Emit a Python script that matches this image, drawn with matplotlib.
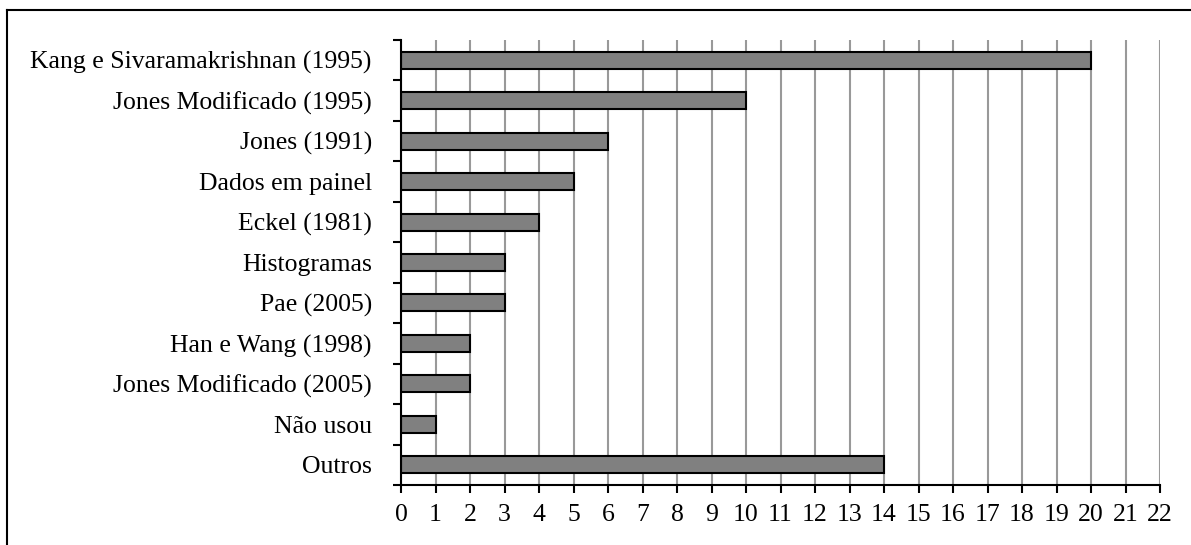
import matplotlib
matplotlib.use("Agg")
import matplotlib.pyplot as plt
from matplotlib.lines import Line2D
import numpy as np

categories = ["Kang e Sivaramakrishnan (1995)", "Jones Modificado (1995)", "Jones (1991)",
              "Dados em painel", "Eckel (1981)", "Histogramas", "Pae (2005)",
              "Han e Wang (1998)", "Jones Modificado (2005)", "Não usou", "Outros"]
values = [20, 10, 6, 5, 4, 3, 3, 2, 2, 1, 14]
xticks = list(range(0, 23))

plt.rcParams['font.family'] = ['Liberation Serif', 'DejaVu Serif']
plt.rcParams['font.size'] = 18.5

fig = plt.figure(figsize=(11.91, 5.45), dpi=100)
ax = fig.add_axes([401/1191, 1-485/545, 759/1191, 445/545])

n = len(categories)
y = np.arange(n)
ax.barh(y, values, height=0.42, color="#808080", edgecolor="black", linewidth=1.5, zorder=3)
ax.set_ylim(n - 0.5, -0.5)
ax.set_xlim(0, 22)
ax.set_xticks(xticks)
ax.set_xticklabels([str(t) for t in xticks])
ax.set_yticks(y)
ax.set_yticklabels(categories)
ax.set_yticks(np.arange(n + 1) - 0.5, minor=True)
ax.tick_params(axis='y', which='major', length=0, pad=21)
ax.tick_params(axis='y', which='minor', length=6, width=1.5, direction='out')
ax.tick_params(axis='x', which='major', length=6, width=1.5, direction='out', pad=8)
ax.xaxis.grid(True, color="#999999", linewidth=1.5, zorder=0)
ax.set_axisbelow(True)
for s in ["top", "right"]:
    ax.spines[s].set_visible(False)
for s in ["left", "bottom"]:
    ax.spines[s].set_linewidth(1.5)
    ax.spines[s].set_zorder(4)

fig.add_artist(Line2D([7/1191, 7/1191], [0, 1-10/545], color="black", linewidth=1.5))
fig.add_artist(Line2D([7/1191, 1190/1191], [1-10/545, 1-10/545], color="black", linewidth=1.5))

fig.savefig("out.png", dpi=100)
